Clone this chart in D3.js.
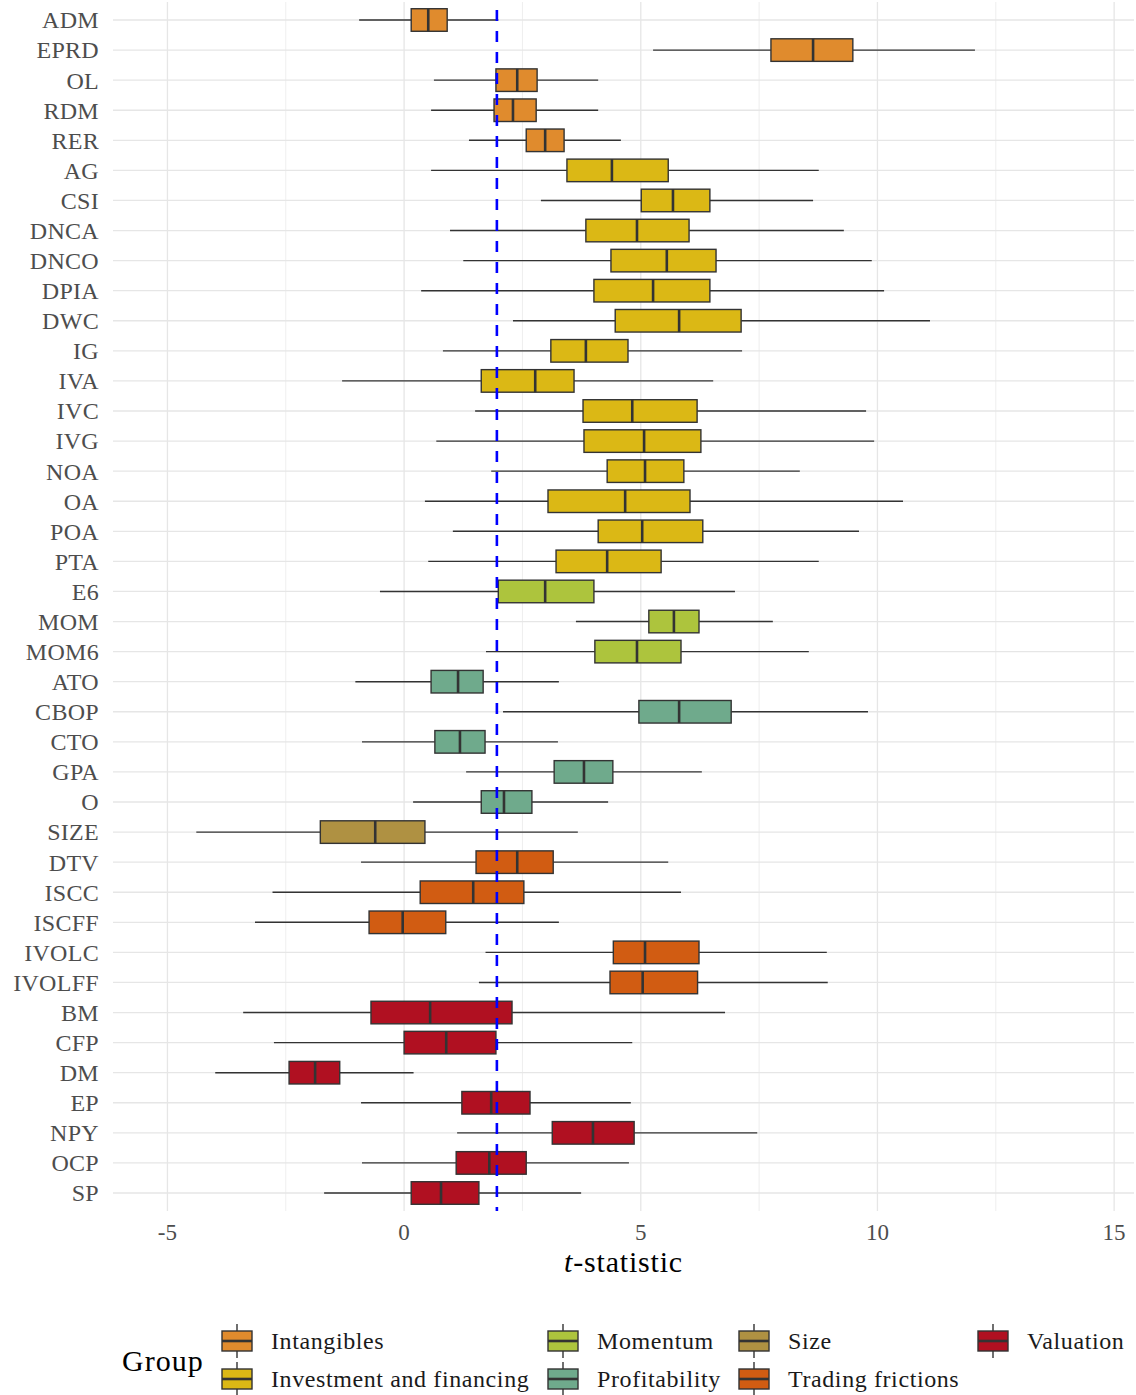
<!DOCTYPE html>
<html><head><meta charset="utf-8">
<script src="https://cdn.jsdelivr.net/npm/d3@7"></script>
<style>body{margin:0;background:#fff}svg{display:block}</style>
</head><body>
<svg id="c" width="1136" height="1395"></svg>
<script>
const factors = ["ADM","EPRD","OL","RDM","RER","AG","CSI","DNCA","DNCO","DPIA","DWC","IG","IVA","IVC","IVG","NOA","OA","POA","PTA","E6","MOM","MOM6","ATO","CBOP","CTO","GPA","O","SIZE","DTV","ISCC","ISCFF","IVOLC","IVOLFF","BM","CFP","DM","EP","NPY","OCP","SP"];
const factorGroup = [0,0,0,0,0,1,1,1,1,1,1,1,1,1,1,1,1,1,1,2,2,2,3,3,3,3,3,4,5,5,5,5,5,6,6,6,6,6,6,6];
const whiskerLow  = [-0.95,5.26,0.63,0.57,1.37,0.57,2.89,0.97,1.25,0.36,2.30,0.82,-1.31,1.50,0.68,1.84,0.44,1.03,0.51,-0.51,3.63,1.73,-1.03,2.09,-0.89,1.31,0.19,-4.39,-0.91,-2.78,-3.15,1.72,1.58,-3.40,-2.75,-3.99,-0.91,1.12,-0.89,-1.69];
const q1          = [0.15,7.75,1.94,1.90,2.58,3.44,5.01,3.84,4.37,4.01,4.46,3.10,1.63,3.78,3.80,4.29,3.04,4.10,3.21,1.99,5.17,4.03,0.57,4.96,0.65,3.17,1.63,-1.77,1.52,0.34,-0.74,4.42,4.35,-0.70,0.00,-2.43,1.22,3.13,1.10,0.15];
const median      = [0.51,8.64,2.39,2.30,2.98,4.39,5.68,4.92,5.55,5.26,5.81,3.84,2.77,4.82,5.07,5.09,4.67,5.03,4.29,2.98,5.70,4.92,1.14,5.81,1.18,3.80,2.11,-0.61,2.39,1.46,-0.03,5.09,5.04,0.55,0.89,-1.88,1.84,3.99,1.80,0.78];
const q3          = [0.91,9.48,2.81,2.79,3.38,5.58,6.46,6.02,6.59,6.46,7.12,4.73,3.59,6.19,6.27,5.91,6.04,6.31,5.43,4.01,6.23,5.85,1.67,6.91,1.71,4.41,2.70,0.44,3.15,2.53,0.88,6.23,6.20,2.28,1.94,-1.36,2.66,4.86,2.58,1.58];
const whiskerHigh = [1.99,12.06,4.10,4.10,4.58,8.76,8.64,9.29,9.88,10.14,11.11,7.14,6.53,9.76,9.93,8.36,10.54,9.61,8.76,6.99,7.79,8.55,3.27,9.80,3.25,6.29,4.31,3.67,5.58,5.85,3.27,8.93,8.95,6.78,4.82,0.20,4.79,7.46,4.75,3.74];
const groupNames  = ["Intangibles","Investment and financing","Momentum","Profitability","Size","Trading frictions","Valuation"];
const groupColors = ["#E08B2D","#DBB815","#ADC43D","#6FAA8C","#AF9142","#D15C12","#B01021"];
const xTicks      = [-5,0,5,10,15];
const xMinor      = [-2.5,2.5,7.5,12.5];
const threshold   = 1.96;

const rows = factors.map((f,i)=>({f, g:factorGroup[i], lo:whiskerLow[i], q1:q1[i], med:median[i], q3:q3[i], hi:whiskerHigh[i]}));

const svg = d3.select("#c");
const FONT = "'Liberation Serif', 'DejaVu Serif', serif";
const panel = {l:113, r:1134, t:2, b:1211};
const x = d3.scaleLinear().domain([-6.15, 15.42]).range([panel.l, panel.r]);
const y = d3.scalePoint().domain(factors).range([20, 1193]);
const boxH = 0.75 * y.step();
const color = d3.scaleOrdinal().domain(d3.range(groupNames.length)).range(groupColors);
const grid = "#e6e6e6";
const ink = "#333333";

// grid
const g = svg.append("g");
g.selectAll(".minor").data(xMinor).join("line")
  .attr("x1",d=>x(d)).attr("x2",d=>x(d)).attr("y1",panel.t).attr("y2",panel.b)
  .attr("stroke",grid).attr("stroke-width",0.7);
g.selectAll(".major").data(xTicks).join("line")
  .attr("x1",d=>x(d)).attr("x2",d=>x(d)).attr("y1",panel.t).attr("y2",panel.b)
  .attr("stroke",grid).attr("stroke-width",1.3);
g.selectAll(".hg").data(factors).join("line")
  .attr("x1",panel.l).attr("x2",panel.r).attr("y1",d=>y(d)).attr("y2",d=>y(d))
  .attr("stroke",grid).attr("stroke-width",1.3);

// boxes
const bx = svg.append("g").selectAll("g").data(rows).join("g");
bx.append("line").attr("x1",d=>x(d.lo)).attr("x2",d=>x(d.q1)).attr("y1",d=>y(d.f)).attr("y2",d=>y(d.f))
  .attr("stroke",ink).attr("stroke-width",1.4);
bx.append("line").attr("x1",d=>x(d.q3)).attr("x2",d=>x(d.hi)).attr("y1",d=>y(d.f)).attr("y2",d=>y(d.f))
  .attr("stroke",ink).attr("stroke-width",1.4);
bx.append("rect").attr("x",d=>x(d.q1)).attr("width",d=>x(d.q3)-x(d.q1))
  .attr("y",d=>y(d.f)-boxH/2).attr("height",boxH)
  .attr("fill",d=>color(d.g)).attr("stroke",ink).attr("stroke-width",1.4);
bx.append("line").attr("x1",d=>x(d.med)).attr("x2",d=>x(d.med))
  .attr("y1",d=>y(d.f)-boxH/2).attr("y2",d=>y(d.f)+boxH/2)
  .attr("stroke",ink).attr("stroke-width",2.6);

// threshold line
svg.append("line").attr("x1",x(threshold)).attr("x2",x(threshold)).attr("y1",panel.t).attr("y2",panel.b)
  .attr("stroke","#0000ff").attr("stroke-width",2.6).attr("stroke-dasharray","11 10").attr("stroke-dashoffset",13);

// y axis labels
svg.append("g").selectAll("text").data(factors).join("text")
  .attr("x",99).attr("y",d=>y(d)).attr("dy","0.35em").attr("text-anchor","end")
  .attr("font-family",FONT).attr("font-size",24).attr("letter-spacing",0.3).attr("fill","#4d4d4d").text(d=>d);

// x axis labels
svg.append("g").selectAll("text").data(xTicks).join("text")
  .attr("x",d=>x(d)).attr("y",1240).attr("text-anchor","middle")
  .attr("font-family",FONT).attr("font-size",23).attr("fill","#4d4d4d").text(d=>d);

const title = svg.append("text").attr("x",(panel.l+panel.r)/2).attr("y",1272).attr("text-anchor","middle")
  .attr("font-family",FONT).attr("font-size",30).attr("fill","#000").attr("letter-spacing",0.8);
title.append("tspan").attr("font-style","italic").text("t");
title.append("tspan").text("-statistic");

// legend
svg.append("text").attr("x",122).attr("y",1371).attr("font-family",FONT).attr("font-size",30)
  .attr("letter-spacing",1).attr("fill","#000").text("Group");
const colX = [222,548,739,978];
const rowY = [1341,1379];
const leg = svg.append("g").selectAll("g").data(groupNames).join("g")
  .attr("transform",(d,i)=>`translate(${colX[Math.floor(i/2)]},${rowY[i%2]})`);
leg.append("line").attr("x1",15).attr("x2",15).attr("y1",-17).attr("y2",17).attr("stroke",ink).attr("stroke-width",1.4);
leg.append("rect").attr("x",0).attr("y",-10).attr("width",30).attr("height",20)
  .attr("fill",(d,i)=>color(i)).attr("stroke",ink).attr("stroke-width",1.4);
leg.append("line").attr("x1",0).attr("x2",30).attr("y1",0).attr("y2",0).attr("stroke",ink).attr("stroke-width",2.6);
leg.append("text").attr("x",49).attr("y",0).attr("dy","0.35em")
  .attr("font-family",FONT).attr("font-size",24).attr("letter-spacing",0.6).attr("fill","#1a1a1a").text(d=>d);
</script>
</body></html>
